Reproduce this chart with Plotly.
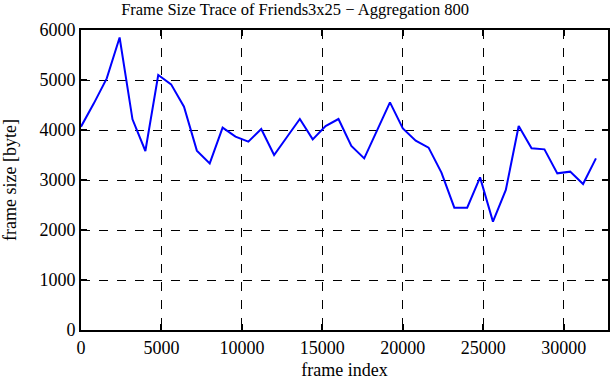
import plotly.graph_objects as go

frame_index = [i * 800 for i in range(41)]
frame_size = [4067, 4533, 5033, 5850, 4213, 3580, 5100, 4913, 4467, 3587,
              3333, 4047, 3867, 3767, 4020, 3500, 3860, 4220, 3813, 4080,
              4220, 3680, 3433, 4000, 4553, 4033, 3787, 3647, 3147, 2447,
              2447, 3053, 2167, 2800, 4080, 3633, 3613, 3133, 3167, 2920,
              3433]
x_ticks = [0, 5000, 10000, 15000, 20000, 25000, 30000]
y_ticks = [0, 1000, 2000, 3000, 4000, 5000, 6000]

title_text = "Frame Size Trace of Friends3x25 \u2212 Aggregation 800"
x_title = "frame index"
y_title = "frame size [byte]"

font_family = "Liberation Serif, Times New Roman, serif"

fig = go.Figure()
fig.add_trace(go.Scatter(x=frame_index, y=frame_size, mode="lines",
                         line=dict(color="#0000ff", width=2), showlegend=False))

axis_common = dict(
    showline=True, linecolor="black", linewidth=2, mirror="ticks",
    ticks="inside", ticklen=6, tickwidth=1.5, tickcolor="black",
    showgrid=True, gridcolor="black", gridwidth=1, griddash="dash",
    zeroline=False, automargin=False,
    tickfont=dict(family=font_family, size=18, color="black"),
)

fig.update_layout(
    width=611, height=380,
    margin=dict(l=81, r=3, t=30, b=50),
    paper_bgcolor="white", plot_bgcolor="white",
    title=dict(text=title_text, x=0.483, xanchor="center", y=0.99, yanchor="top",
               font=dict(family=font_family, size=16.5, color="black")),
    xaxis=dict(range=[0, 32750], tickvals=x_ticks, ticktext=[str(v) for v in x_ticks],
               title=dict(text=x_title,
                          font=dict(family=font_family, size=18, color="black")),
               **axis_common),
    yaxis=dict(range=[0, 6000], tickvals=y_ticks, ticktext=[str(v) for v in y_ticks],
               title=dict(text=y_title, standoff=18,
                          font=dict(family=font_family, size=18, color="black")),
               **axis_common),
)

fig.write_html("out.html", config={"displayModeBar": False},
               post_script="document.body.style.margin='0';")
